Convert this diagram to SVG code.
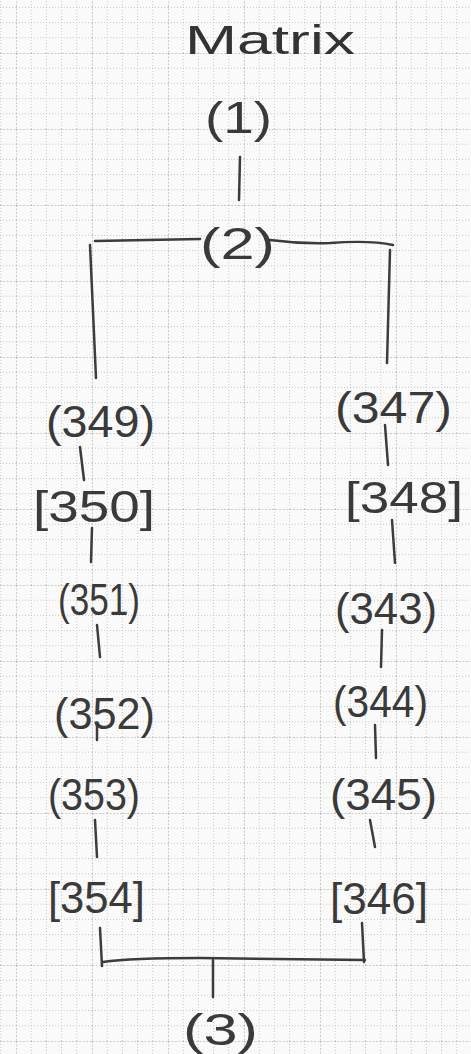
<svg xmlns="http://www.w3.org/2000/svg" width="471" height="1054" viewBox="0 0 471 1054">
  <defs>
    <pattern id="grid" x="16" y="53" width="76" height="76" patternUnits="userSpaceOnUse">
      <path d="M15.2 0V76M30.4 0V76M45.6 0V76M60.8 0V76M0 15.2H76M0 30.4H76M0 45.6H76M0 60.8H76" fill="none" stroke="#bdbdbd" stroke-width="0.8" stroke-dasharray="1 2"/>
      <path d="M0 0V76M0 0H76" fill="none" stroke="#9e9e9e" stroke-width="1" stroke-dasharray="2 1.5"/>
    </pattern>
    <style>
      .lbl { font-family: "Liberation Sans", Arial, sans-serif; font-size: 44px; fill: #3a3a3a; text-anchor: start; }
      .title { font-family: "Liberation Sans", Arial, sans-serif; font-size: 40px; fill: #333; }
      .edge { fill: none; stroke: #3c3c3c; stroke-width: 2.5; stroke-linecap: round; }
    </style>
  </defs>
  <rect width="471" height="1054" fill="#fafafa"/>
  <rect width="471" height="1054" fill="url(#grid)"/>

  <g id="title"><text class="title" x="185" y="54" textLength="170" lengthAdjust="spacingAndGlyphs">Matrix</text></g>

  <g id="connectors">
    <path class="edge" d="M240 157 L239 200"/>
    <path class="edge" d="M95 241 L200 239"/>
    <path class="edge" d="M270 240 Q300 244 330 243 Q370 240 393 245"/>
    <path class="edge" d="M90 245 L96 378"/>
    <path class="edge" d="M390 250 L387 363"/>
    <path class="edge" d="M80 447 L84 480"/>
    <path class="edge" d="M92 528 L91 562"/>
    <path class="edge" d="M97 625 L100 657"/>
    <path class="edge" d="M97 723 L97 740"/>
    <path class="edge" d="M95 820 L97 857"/>
    <path class="edge" d="M100 928 L102 966"/>
    <path class="edge" d="M103 962 Q130 958 200 958 L365 960"/>
    <path class="edge" d="M362 923 L364 962"/>
    <path class="edge" d="M213 960 L213 997"/>
    <path class="edge" d="M385 425 L388 465"/>
    <path class="edge" d="M392 520 L395 563"/>
    <path class="edge" d="M382 630 L381 667"/>
    <path class="edge" d="M375 725 L376 758"/>
    <path class="edge" d="M370 820 L375 847"/>
  </g>

  <g id="n1"><text class="lbl" x="205" y="133" textLength="67" lengthAdjust="spacingAndGlyphs">(1)</text></g>
  <g id="n2"><text class="lbl" x="200" y="259" textLength="75" lengthAdjust="spacingAndGlyphs">(2)</text></g>
  <g id="n349"><text class="lbl" x="46" y="437" textLength="109" lengthAdjust="spacingAndGlyphs">(349)</text></g>
  <g id="n350"><text class="lbl" x="33" y="522" textLength="122" lengthAdjust="spacingAndGlyphs">[350]</text></g>
  <g id="n351"><text class="lbl" x="58" y="615" textLength="82" lengthAdjust="spacingAndGlyphs">(351)</text></g>
  <g id="n352"><text class="lbl" x="54" y="729" textLength="101" lengthAdjust="spacingAndGlyphs">(352)</text></g>
  <g id="n353"><text class="lbl" x="48" y="810" textLength="92" lengthAdjust="spacingAndGlyphs">(353)</text></g>
  <g id="n354"><text class="lbl" x="48" y="913" textLength="97" lengthAdjust="spacingAndGlyphs">[354]</text></g>
  <g id="n347"><text class="lbl" x="335" y="423" textLength="117" lengthAdjust="spacingAndGlyphs">(347)</text></g>
  <g id="n348"><text class="lbl" x="345" y="513" textLength="118" lengthAdjust="spacingAndGlyphs">[348]</text></g>
  <g id="n343"><text class="lbl" x="335" y="624" textLength="102" lengthAdjust="spacingAndGlyphs">(343)</text></g>
  <g id="n344"><text class="lbl" x="333" y="717" textLength="95" lengthAdjust="spacingAndGlyphs">(344)</text></g>
  <g id="n345"><text class="lbl" x="330" y="810" textLength="107" lengthAdjust="spacingAndGlyphs">(345)</text></g>
  <g id="n346"><text class="lbl" x="330" y="914" textLength="98" lengthAdjust="spacingAndGlyphs">[346]</text></g>
  <g id="n3"><text class="lbl" x="183" y="1045" textLength="75" lengthAdjust="spacingAndGlyphs">(3)</text></g>
</svg>
